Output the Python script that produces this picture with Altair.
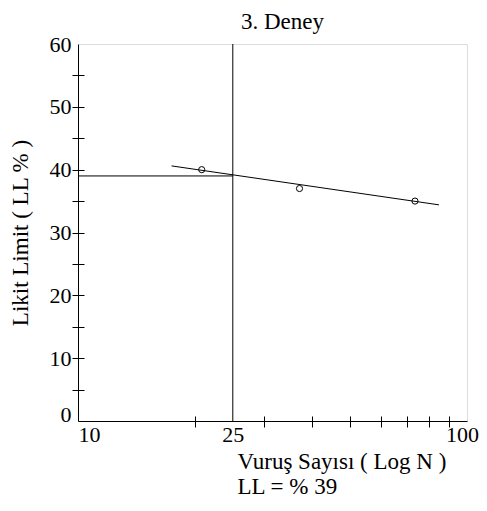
import altair as alt
import pandas as pd

# data
point_n = [20.8, 37.1, 73.5]
point_ll = [40, 37, 35]
fit_n = [17.4, 84.7]
fit_ll = [40.6, 34.4]
ll_n = 25
ll_value = 39
x_domain = [10, 100]
y_domain = [0, 60]
x_tick_values = [10, 20, 25, 30, 40, 50, 60, 70, 80, 90, 100]
x_inner_ticks = [20, 30, 40, 50, 60, 70, 80, 90]
y_tick_values = [0, 5, 10, 15, 20, 25, 30, 35, 40, 45, 50, 55, 60]
y_inner_ticks = [5, 10, 15, 20, 25, 30, 35, 40, 45, 50, 55]
chart_title = "3. Deney"
x_title = ["Vuruş Sayısı ( Log N )", "LL = % 39"]
y_title = "Likit Limit ( LL % )"

FONT = "Liberation Serif"
FS = 22
TFS = 23

points_df = pd.DataFrame({"n": point_n, "ll": point_ll})
fit_df = pd.DataFrame({"n": fit_n, "ll": fit_ll})
hline_df = pd.DataFrame({"n": [x_domain[0]], "n2": [ll_n], "ll": [ll_value]})
vline_df = pd.DataFrame({"n": [ll_n]})

xscale = alt.Scale(type="log", domain=x_domain, nice=False)
yscale = alt.Scale(domain=y_domain, nice=False, zero=False)

x_main_axis = alt.Axis(
    orient="bottom",
    values=x_tick_values,
    labelExpr="datum.value == 10 || datum.value == 25 || datum.value == 100 ? '' + datum.value : ''",
    labelAlign={"condition": {"test": "datum.value == 10", "value": "left"}, "value": "center"},
    labelOffset={"condition": {"test": "datum.value == 100", "value": -5}, "value": 0},
    labelFlush=False,
    labelOverlap=False,
    labelBound=False,
    labelPadding=-3,
    labelFont=FONT,
    labelFontSize=FS,
    labelColor="black",
    tickSize=6,
    tickOpacity={"condition": {"test": "datum.value == 10 || datum.value == 25 || datum.value == 100", "value": 0}, "value": 1},
    tickColor="black",
    domainColor="black",
    grid=False,
    title=x_title,
    titleFont=FONT,
    titleFontSize=TFS,
    titleFontWeight="normal",
    titleColor="black",
    titleAlign="left",
    titleAnchor="start",
    titleBaseline="alphabetic",
    titleX=159,
    titleY=47,
    titleLineHeight=25,
)

y_main_axis = alt.Axis(
    orient="left",
    values=y_tick_values,
    labelExpr="datum.value % 10 == 0 ? datum.label : ''",
    labelOffset={"condition": {"test": "datum.value == 0", "value": -7}, "value": 0},
    labelFlush=False,
    labelOverlap=False,
    labelPadding=1,
    labelFont=FONT,
    labelFontSize=FS,
    labelColor="black",
    tickSize=6,
    tickOpacity={"condition": {"test": "datum.value == 0 || datum.value == 60", "value": 0}, "value": 1},
    tickColor="black",
    domainColor="black",
    grid=False,
    title=y_title,
    titleFont=FONT,
    titleFontSize=TFS,
    titleFontWeight="normal",
    titleColor="black",
    titleAngle=270,
    titleAlign="center",
    titleBaseline="alphabetic",
    titleX=-51,
    titleY=188.5,
)

x_inner_axis = alt.Axis(
    orient="bottom", values=x_inner_ticks, offset=-5, tickSize=5, tickColor="black",
    domain=False, labels=False, grid=False, title=None,
)
y_inner_axis = alt.Axis(
    orient="left", values=y_inner_ticks, offset=-6, tickSize=6, tickColor="black",
    domain=False, labels=False, grid=False, title=None,
)
# top axis used only to carry the chart title
x_title_axis = alt.Axis(
    orient="top", values=[], labels=False, ticks=False, domain=False, grid=False,
    title=chart_title, titleFont=FONT, titleFontSize=TFS, titleFontWeight="normal",
    titleColor="black", titleAlign="center", titleBaseline="alphabetic",
    titleX=204, titleY=-15.5,
)

points = alt.Chart(points_df).mark_point(
    shape="circle", filled=False, size=38, color="black", strokeWidth=1, opacity=1
).encode(
    x=alt.X("n:Q", scale=xscale, axis=x_main_axis),
    y=alt.Y("ll:Q", scale=yscale, axis=y_main_axis),
)

fit = alt.Chart(fit_df).mark_line(color="black", strokeWidth=1).encode(
    x=alt.X("n:Q", scale=xscale, axis=x_inner_axis),
    y=alt.Y("ll:Q", scale=yscale, axis=y_inner_axis),
)

vline = alt.Chart(vline_df).mark_rule(color="black", strokeWidth=1).encode(
    x=alt.X("n:Q", scale=xscale, axis=x_title_axis),
)

hline = alt.Chart(hline_df).mark_rule(color="black", strokeWidth=1).encode(
    x=alt.X("n:Q", scale=xscale, axis=None),
    x2="n2:Q",
    y=alt.Y("ll:Q", scale=yscale, axis=None),
)

chart = (
    alt.layer(hline, vline, fit, points)
    .resolve_axis(x="independent", y="independent")
    .properties(
        width=389,
        height=377,
        autosize=alt.AutoSizeParams(type="none"),
        padding={"left": 70, "top": 36, "right": 12, "bottom": 77},
    )
    .configure_view(stroke="black", strokeWidth=1)
    .configure(background="white")
)

chart.save("out.html", embed_options={"renderer": "svg", "actions": False})
